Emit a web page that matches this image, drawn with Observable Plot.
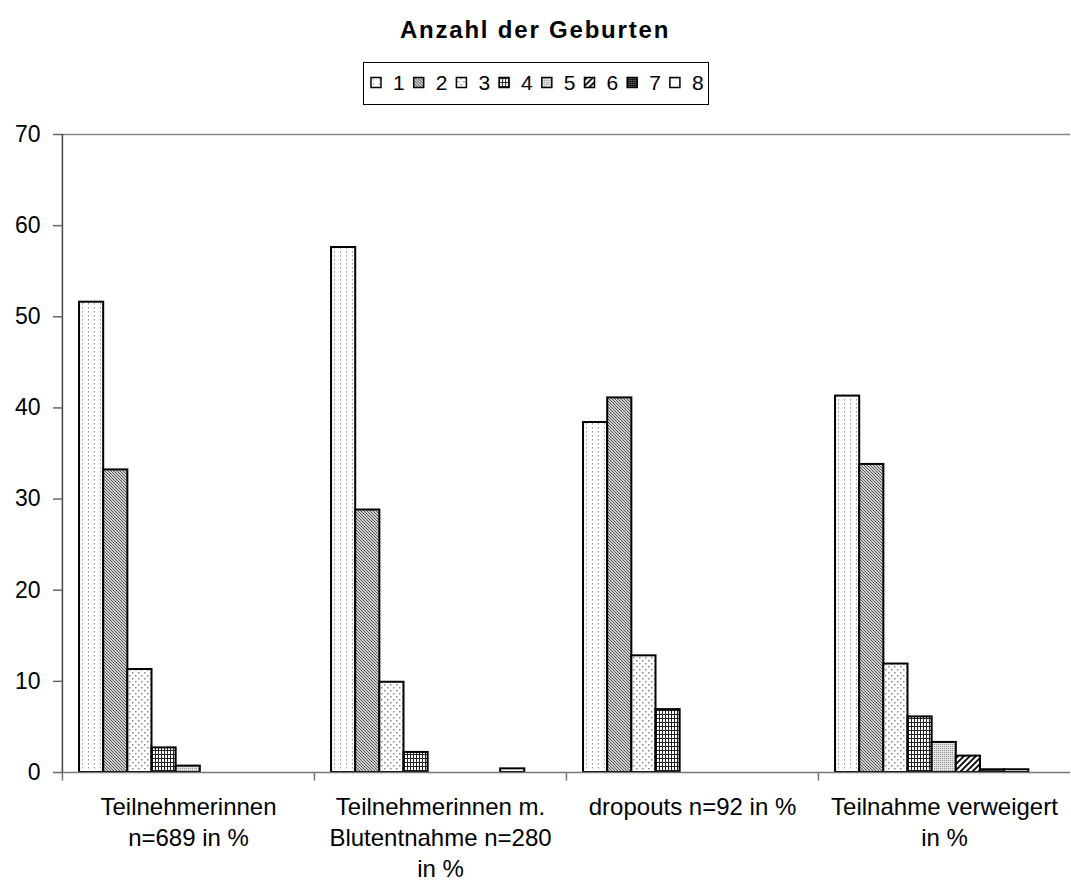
<!DOCTYPE html>
<html>
<head>
<meta charset="utf-8">
<script src="https://cdn.jsdelivr.net/npm/d3@7"></script>
<script src="https://cdn.jsdelivr.net/npm/@observablehq/plot@0.6"></script>
<style>
  html, body { margin: 0; padding: 0; background: #fff; }
  body { font-family: "Liberation Sans", Arial, sans-serif; }
  #wrap { position: relative; width: 1071px; height: 884px; overflow: hidden; }
  #title { position: absolute; left: 0; width: 1070px; top: 18px; text-align: center;
           font: bold 24px "Liberation Sans", Arial, sans-serif; letter-spacing: 1.8px; line-height: 24px; }
  #legend { position: absolute; left: 363px; top: 62px; }
  #chart { position: absolute; left: 0; top: 110px; }
</style>
</head>
<body>
<svg width="0" height="0" style="position:absolute">
  <defs>
    <pattern id="p1" patternUnits="userSpaceOnUse" width="6" height="4">
      <rect width="6" height="4" fill="#fff"/><rect x="2" y="1" width="1" height="1.5" fill="#999"/>
    </pattern>
    <pattern id="p2" patternUnits="userSpaceOnUse" width="3" height="3">
      <rect width="3" height="3" fill="#d0d0d0"/>
      <path d="M-1,-1 L4,4 M-1,2 L1,4 M2,-1 L4,1" stroke="#555" stroke-width="1"/>
    </pattern>
    <pattern id="p3" patternUnits="userSpaceOnUse" width="6" height="6">
      <rect width="6" height="6" fill="#fff"/>
      <rect x="1" y="1" width="1.5" height="1.5" fill="#888"/>
      <rect x="4" y="4" width="1.5" height="1.5" fill="#888"/>
    </pattern>
    <pattern id="p4" patternUnits="userSpaceOnUse" width="3" height="4">
      <rect width="3" height="4" fill="#fff"/>
      <rect x="0" y="0" width="1" height="4" fill="#222"/>
      <rect x="0" y="0" width="3" height="1" fill="#222"/>
    </pattern>
    <pattern id="p5" patternUnits="userSpaceOnUse" width="2" height="2">
      <rect width="2" height="2" fill="#e0e0e0"/><rect width="1" height="1" fill="#999"/>
    </pattern>
    <pattern id="p6" patternUnits="userSpaceOnUse" width="6" height="6">
      <rect width="6" height="6" fill="#fff"/>
      <path d="M-1,7 L7,-1 M-1,1 L1,-1 M5,7 L7,5" stroke="#000" stroke-width="1.8"/>
    </pattern>
    <pattern id="p7" patternUnits="userSpaceOnUse" width="2" height="2">
      <rect width="2" height="2" fill="#1a1a1a"/><rect width="1" height="1" fill="#777"/>
    </pattern>
    <pattern id="p8" patternUnits="userSpaceOnUse" width="10" height="10">
      <rect width="10" height="10" fill="#fff"/><rect x="0" y="5" width="10" height="1.2" fill="#000"/>
    </pattern>
  </defs>
</svg>
<div id="wrap">
  <div id="title">Anzahl der Geburten</div>
  <div id="legend"></div>
  <div id="chart"></div>
</div>
<script>
// ---- data ----
const groups = [
  "Teilnehmerinnen\nn=689 in %",
  "Teilnehmerinnen m.\nBlutentnahme n=280\nin %",
  "dropouts n=92 in %",
  "Teilnahme verweigert\nin %"
];
const series = ["1", "2", "3", "4", "5", "6", "7", "8"];
const teilnehmerinnen = [51.6, 33.2, 11.3, 2.7, 0.7, 0, 0, 0];
const blutentnahme   = [57.6, 28.8, 9.9, 2.2, 0, 0, 0, 0.4];
const dropouts       = [38.4, 41.1, 12.8, 6.9, 0, 0, 0, 0];
const verweigert     = [41.3, 33.8, 11.9, 6.1, 3.3, 1.8, 0.3, 0.3];
const yTicks = [0, 10, 20, 30, 40, 50, 60, 70];
const patterns = ["url(#p1)", "url(#p2)", "url(#p3)", "url(#p4)", "url(#p5)", "url(#p6)", "url(#p7)", "url(#p8)"];

const valueSets = [teilnehmerinnen, blutentnahme, dropouts, verweigert];
const table = [];
groups.forEach((g, gi) => series.forEach((s, si) => table.push({group: g, series: s, value: valueSets[gi][si]})));

// ---- layout ----
const W = 1071, H = 774;
const mL = 60, mR = 0, mT = 24, mB = 112;
const facetW = (W - mL - mR) / groups.length;
const padOuter = 1.216, align = 0.29;
const step = facetW / (series.length + 2 * padOuter);
const x0 = (facetW - step * series.length) * align;
const edgeDx = -(x0 + step / 2);

const chart = Plot.plot({
  width: W,
  height: H,
  marginLeft: mL,
  marginRight: mR,
  marginTop: mT,
  marginBottom: mB,
  style: {fontFamily: "'Liberation Sans', Arial, sans-serif", color: "#000", background: "#fff"},
  fx: {domain: groups, padding: 0, label: null},
  x: {domain: series, paddingInner: 0, paddingOuter: padOuter, align, axis: null, round: false},
  y: {domain: [0, 70], label: null},
  color: {domain: series, range: patterns},
  marks: [
    Plot.ruleY([70], {stroke: "#888", strokeWidth: 1.5}),
    Plot.barY(table, {
      fx: "group", x: "series", y: "value", fill: "series",
      stroke: "#000", strokeWidth: 2, filter: d => d.value > 0
    }),
    Plot.ruleY([0], {stroke: "#777", strokeWidth: 1.5}),
    // category separator ticks below the baseline
    Plot.ruleX([null], {x: () => series[0], dx: edgeDx, y1: () => 0, y2: () => -0.95, stroke: "#777", strokeWidth: 1.5}),
    // y axis line (leftmost facet only)
    Plot.ruleX([null], {fx: () => groups[0], x: () => series[0], dx: edgeDx, y1: () => 0, y2: () => 70, stroke: "#444", strokeWidth: 1.5}),
    Plot.axisY({ticks: yTicks, tickSize: 9, tickPadding: 13, fontSize: 23, stroke: "#666", strokeWidth: 1.5, label: null}),
    Plot.axisFx({anchor: "bottom", tickSize: 0, tickPadding: 20, fontSize: 24, lineHeight: 1.3, label: null})
  ]
});
document.getElementById("chart").appendChild(chart);

// ---- legend ----
const lw = 346, lh = 43, itemStep = 42.7;
const leg = d3.select("#legend").append("svg").attr("width", lw).attr("height", lh);
leg.append("rect").attr("x", 0.5).attr("y", 0.5).attr("width", lw - 1).attr("height", lh - 1)
  .attr("fill", "#fff").attr("stroke", "#000").attr("stroke-width", 1);
const items = leg.selectAll("g.item").data(series).join("g").attr("class", "item")
  .attr("transform", (d, i) => `translate(${8 + i * itemStep},0)`);
items.append("rect").attr("x", 0).attr("y", 15.5).attr("width", 10).attr("height", 10)
  .attr("fill", (d, i) => patterns[i]).attr("stroke", "#000").attr("stroke-width", 1.5);
items.append("text").attr("x", 22).attr("y", 28).text(d => d)
  .attr("font-size", 21).attr("font-family", "'Liberation Sans', Arial, sans-serif");
</script>
</body>
</html>
